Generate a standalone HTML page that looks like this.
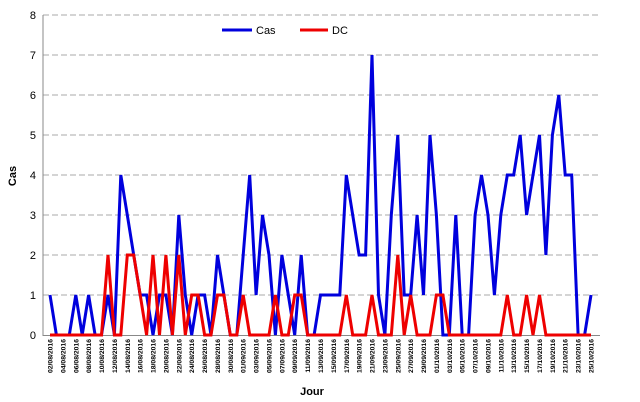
<!DOCTYPE html>
<html><head><meta charset="utf-8"><style>
html,body{margin:0;padding:0;background:#fff;}
svg{display:block;font-family:"Liberation Sans",sans-serif;}
</style></head><body>
<svg id="s" width="640" height="402" xmlns="http://www.w3.org/2000/svg"></svg>
<script>
const s=document.getElementById('s');
const cas=[1,0,0,0,1,0,1,0,0,1,0,4,3,2,1,1,0,1,1,0,3,1,0,1,1,0,2,1,0,0,2,4,1,3,2,0,2,1,0,2,0,0,1,1,1,1,4,3,2,2,7,1,0,3,5,1,1,3,1,5,3,0,0,3,0,0,3,4,3,1,3,4,4,5,3,4,5,2,5,6,4,4,0,0,1];
const dc=[0,0,0,0,0,0,0,0,0,2,0,0,2,2,1,0,2,0,2,0,2,0,1,1,0,0,1,1,0,0,1,0,0,0,0,1,0,0,1,1,0,0,0,0,0,0,1,0,0,0,1,0,0,0,2,0,1,0,0,0,1,1,0,0,0,0,0,0,0,0,0,1,0,0,1,0,1,0,0,0,0,0,0,0,0];
const x0=50,dx=541/84,Y=v=>335-v*40;
let h='';
for(let v=1;v<=8;v++)h+=`<line x1="43" x2="600" y1="${Y(v)}" y2="${Y(v)}" stroke="#aaa" stroke-dasharray="6,3" stroke-width="1"/>`;
h+=`<line x1="43" x2="43" y1="15" y2="336" stroke="#888"/><line x1="43" x2="600" y1="335.5" y2="335.5" stroke="#888"/>`;
for(let v=0;v<=8;v++)h+=`<text x="36" y="${Y(v)+4}" font-size="11" text-anchor="end">${v}</text>`;
const pts=a=>a.map((v,i)=>(x0+i*dx).toFixed(1)+','+Y(v)).join(' ');
h+=`<polyline points="${pts(cas)}" fill="none" stroke="#0000dd" stroke-width="3" stroke-linejoin="miter"/>`;
h+=`<polyline points="${pts(dc)}" fill="none" stroke="#ee0000" stroke-width="3"/>`;
const d0=new Date(2016,7,2);
for(let i=0;i<85;i+=2){const d=new Date(d0.getTime()+i*86400000+3600000);
const t=String(d.getDate()).padStart(2,'0')+'/'+String(d.getMonth()+1).padStart(2,'0')+'/2016';
const x=x0+i*dx+2.5;h+=`<text transform="translate(${x.toFixed(1)},339) rotate(-90)" font-size="6.8" font-weight="bold" text-anchor="end">${t}</text>`;}
h+=`<text x="312" y="395" font-size="11" font-weight="bold" text-anchor="middle">Jour</text>`;
h+=`<text transform="translate(16,176) rotate(-90)" font-size="11" font-weight="bold" text-anchor="middle">Cas</text>`;
h+=`<line x1="222" x2="252" y1="30" y2="30" stroke="#0000dd" stroke-width="3"/><text x="256" y="34" font-size="11">Cas</text>`;
h+=`<line x1="300" x2="328" y1="30" y2="30" stroke="#ee0000" stroke-width="3"/><text x="332" y="34" font-size="11">DC</text>`;
s.innerHTML=h;
</script>
</body></html>
